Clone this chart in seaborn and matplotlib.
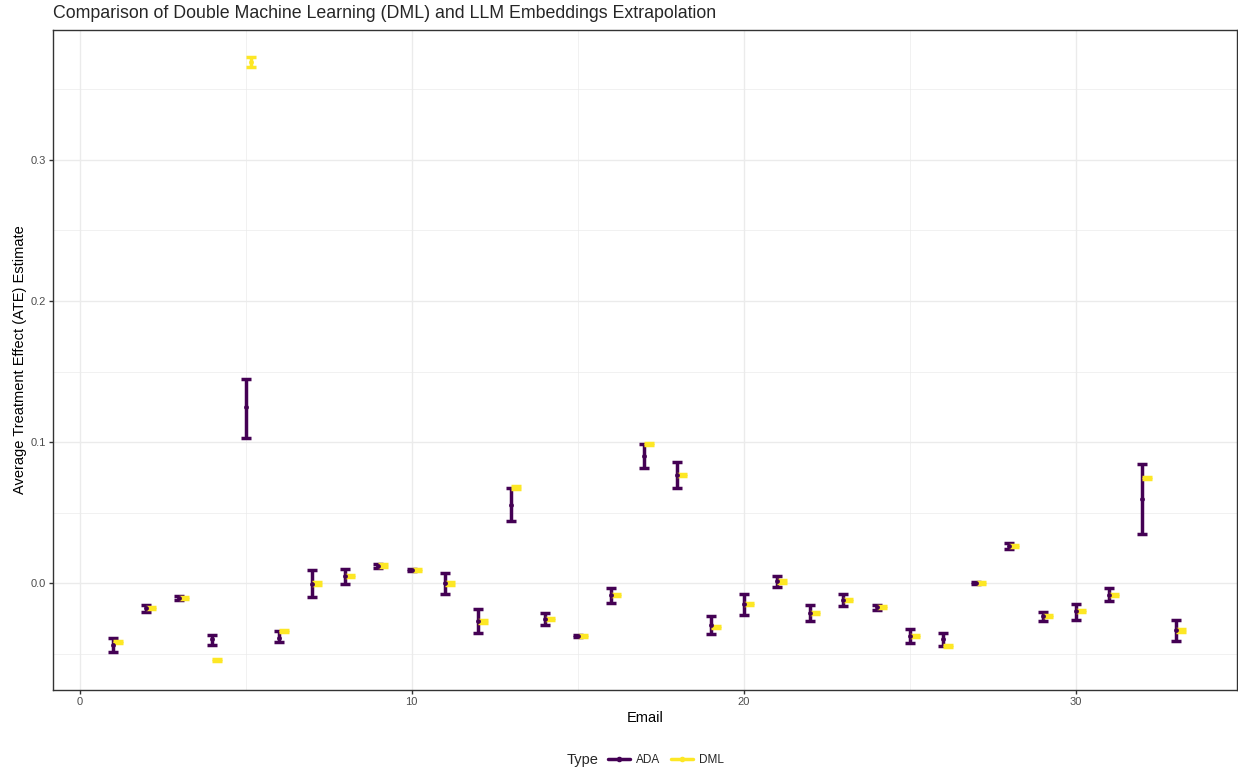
import pandas as pd
import matplotlib.pyplot as plt
import seaborn as sns
from matplotlib.lines import Line2D
from matplotlib.ticker import MultipleLocator

# email index
emails = list(range(1, 34))

# ADA (LLM embeddings extrapolation) estimates and CI bounds
ada_est = [-0.0435, -0.0176, -0.0102, -0.0397, 0.1247, -0.0387, -0.0002, 0.0050, 0.0126, 0.0093,
           0.0000, -0.0269, 0.0558, -0.0252, -0.0375, -0.0083, 0.0905, 0.0768, -0.0295, -0.0147,
           0.0014, -0.0209, -0.0116, -0.0169, -0.0371, -0.0394, 0.0005, 0.0264, -0.0233, -0.0197,
           -0.0081, 0.0598, -0.0333]
ada_low = [-0.0485, -0.0200, -0.0115, -0.0433, 0.1033, -0.0413, -0.0098, -0.0002, 0.0112, 0.0086,
           -0.0074, -0.0354, 0.0440, -0.0292, -0.0382, -0.0140, 0.0817, 0.0675, -0.0359, -0.0221,
           -0.0026, -0.0266, -0.0159, -0.0186, -0.0425, -0.0442, -0.0002, 0.0242, -0.0266, -0.0257,
           -0.0128, 0.0352, -0.0406]
ada_high = [-0.0390, -0.0152, -0.0090, -0.0364, 0.1447, -0.0335, 0.0093, 0.0100, 0.0140, 0.0100,
            0.0073, -0.0183, 0.0677, -0.0212, -0.0368, -0.0031, 0.0991, 0.0857, -0.0228, -0.0076,
            0.0050, -0.0155, -0.0078, -0.0152, -0.0326, -0.0354, 0.0012, 0.0283, -0.0200, -0.0143,
            -0.0036, 0.0846, -0.0259]

# DML estimates and CI half-widths
dml_est = [-0.0416, -0.0176, -0.0102, -0.0544, 0.3694, -0.0337, 0.0000, 0.0050, 0.0126, 0.0093,
           0.0000, -0.0269, 0.0680, -0.0252, -0.0375, -0.0083, 0.0989, 0.0768, -0.0311, -0.0147,
           0.0014, -0.0209, -0.0116, -0.0169, -0.0371, -0.0444, 0.0005, 0.0264, -0.0233, -0.0197,
           -0.0081, 0.0746, -0.0333]
dml_err = [0.0008] * 4 + [0.0035] + [0.0008] * 28

ADA_COLOR = "#440154"
DML_COLOR = "#FDE725"

ada_df = pd.DataFrame({"email": emails, "ate": ada_est, "low": ada_low, "high": ada_high})
dml_df = pd.DataFrame({"email": [e + 0.15 for e in emails], "ate": dml_est})
dml_df["low"] = dml_df["ate"] - pd.Series(dml_err)
dml_df["high"] = dml_df["ate"] + pd.Series(dml_err)

sns.set_theme(style="white")
plt.rcParams["font.family"] = ["Liberation Sans", "DejaVu Sans"]

fig = plt.figure(figsize=(12.38, 7.72), dpi=100)
ax = fig.add_axes([53 / 1238, 1 - 690 / 772, (1237 - 53) / 1238, (690 - 30) / 772])

for df, color in [(ada_df, ADA_COLOR), (dml_df, DML_COLOR)]:
    ax.errorbar(
        df["email"], df["ate"],
        yerr=[df["ate"] - df["low"], df["high"] - df["ate"]],
        fmt="none", ecolor=color, elinewidth=2.5, capsize=3.8, capthick=2.5, zorder=3,
    )
    sns.scatterplot(data=df, x="email", y="ate", color=color, s=12, edgecolor=color,
                    linewidth=0, ax=ax, zorder=4, legend=False)

ax.set_xlim(-0.8, 34.85)
ax.set_ylim(-0.0755, 0.392)
ax.xaxis.set_major_locator(MultipleLocator(10))
ax.xaxis.set_minor_locator(MultipleLocator(5))
ax.yaxis.set_major_locator(MultipleLocator(0.1))
ax.yaxis.set_minor_locator(MultipleLocator(0.05))
ax.yaxis.set_major_formatter(plt.FuncFormatter(lambda v, _: f"{v:.1f}"))

ax.grid(which="major", color="#EBEBEB", linewidth=1.0)
ax.grid(which="minor", color="#EBEBEB", linewidth=0.5)
ax.set_axisbelow(True)
for spine in ax.spines.values():
    spine.set_color("#333333")
    spine.set_linewidth(1.0)
ax.tick_params(which="major", length=3, width=1, color="#333333", labelsize=8,
               labelcolor="#4D4D4D", pad=2, left=True, bottom=True)
ax.tick_params(which="minor", length=0)

ax.set_xlabel("Email", fontsize=10.5, color="black", labelpad=3)
ax.set_ylabel("Average Treatment Effect (ATE) Estimate", fontsize=10.5, color="black", labelpad=3)
fig.text(53 / 1238, 1 - 14 / 772, "Comparison of Double Machine Learning (DML) and LLM Embeddings Extrapolation",
         fontsize=12.8, ha="left", va="center")

handles = [
    Line2D([0], [0], color=ADA_COLOR, lw=2.5, marker="o", markersize=3),
    Line2D([0], [0], color=DML_COLOR, lw=2.5, marker="o", markersize=3),
]
fig.text(567 / 1238, 1 - 760 / 772, "Type", fontsize=10.5, ha="left", va="center")
fig.legend(handles, ["ADA", "DML"], loc="center left", bbox_to_anchor=(608 / 1238, 1 - 760 / 772),
           ncol=2, frameon=False, fontsize=8.5, handlelength=1.9, handletextpad=0.5,
           columnspacing=0.85, borderpad=0, borderaxespad=0)

fig.savefig("out.png", dpi=100)
